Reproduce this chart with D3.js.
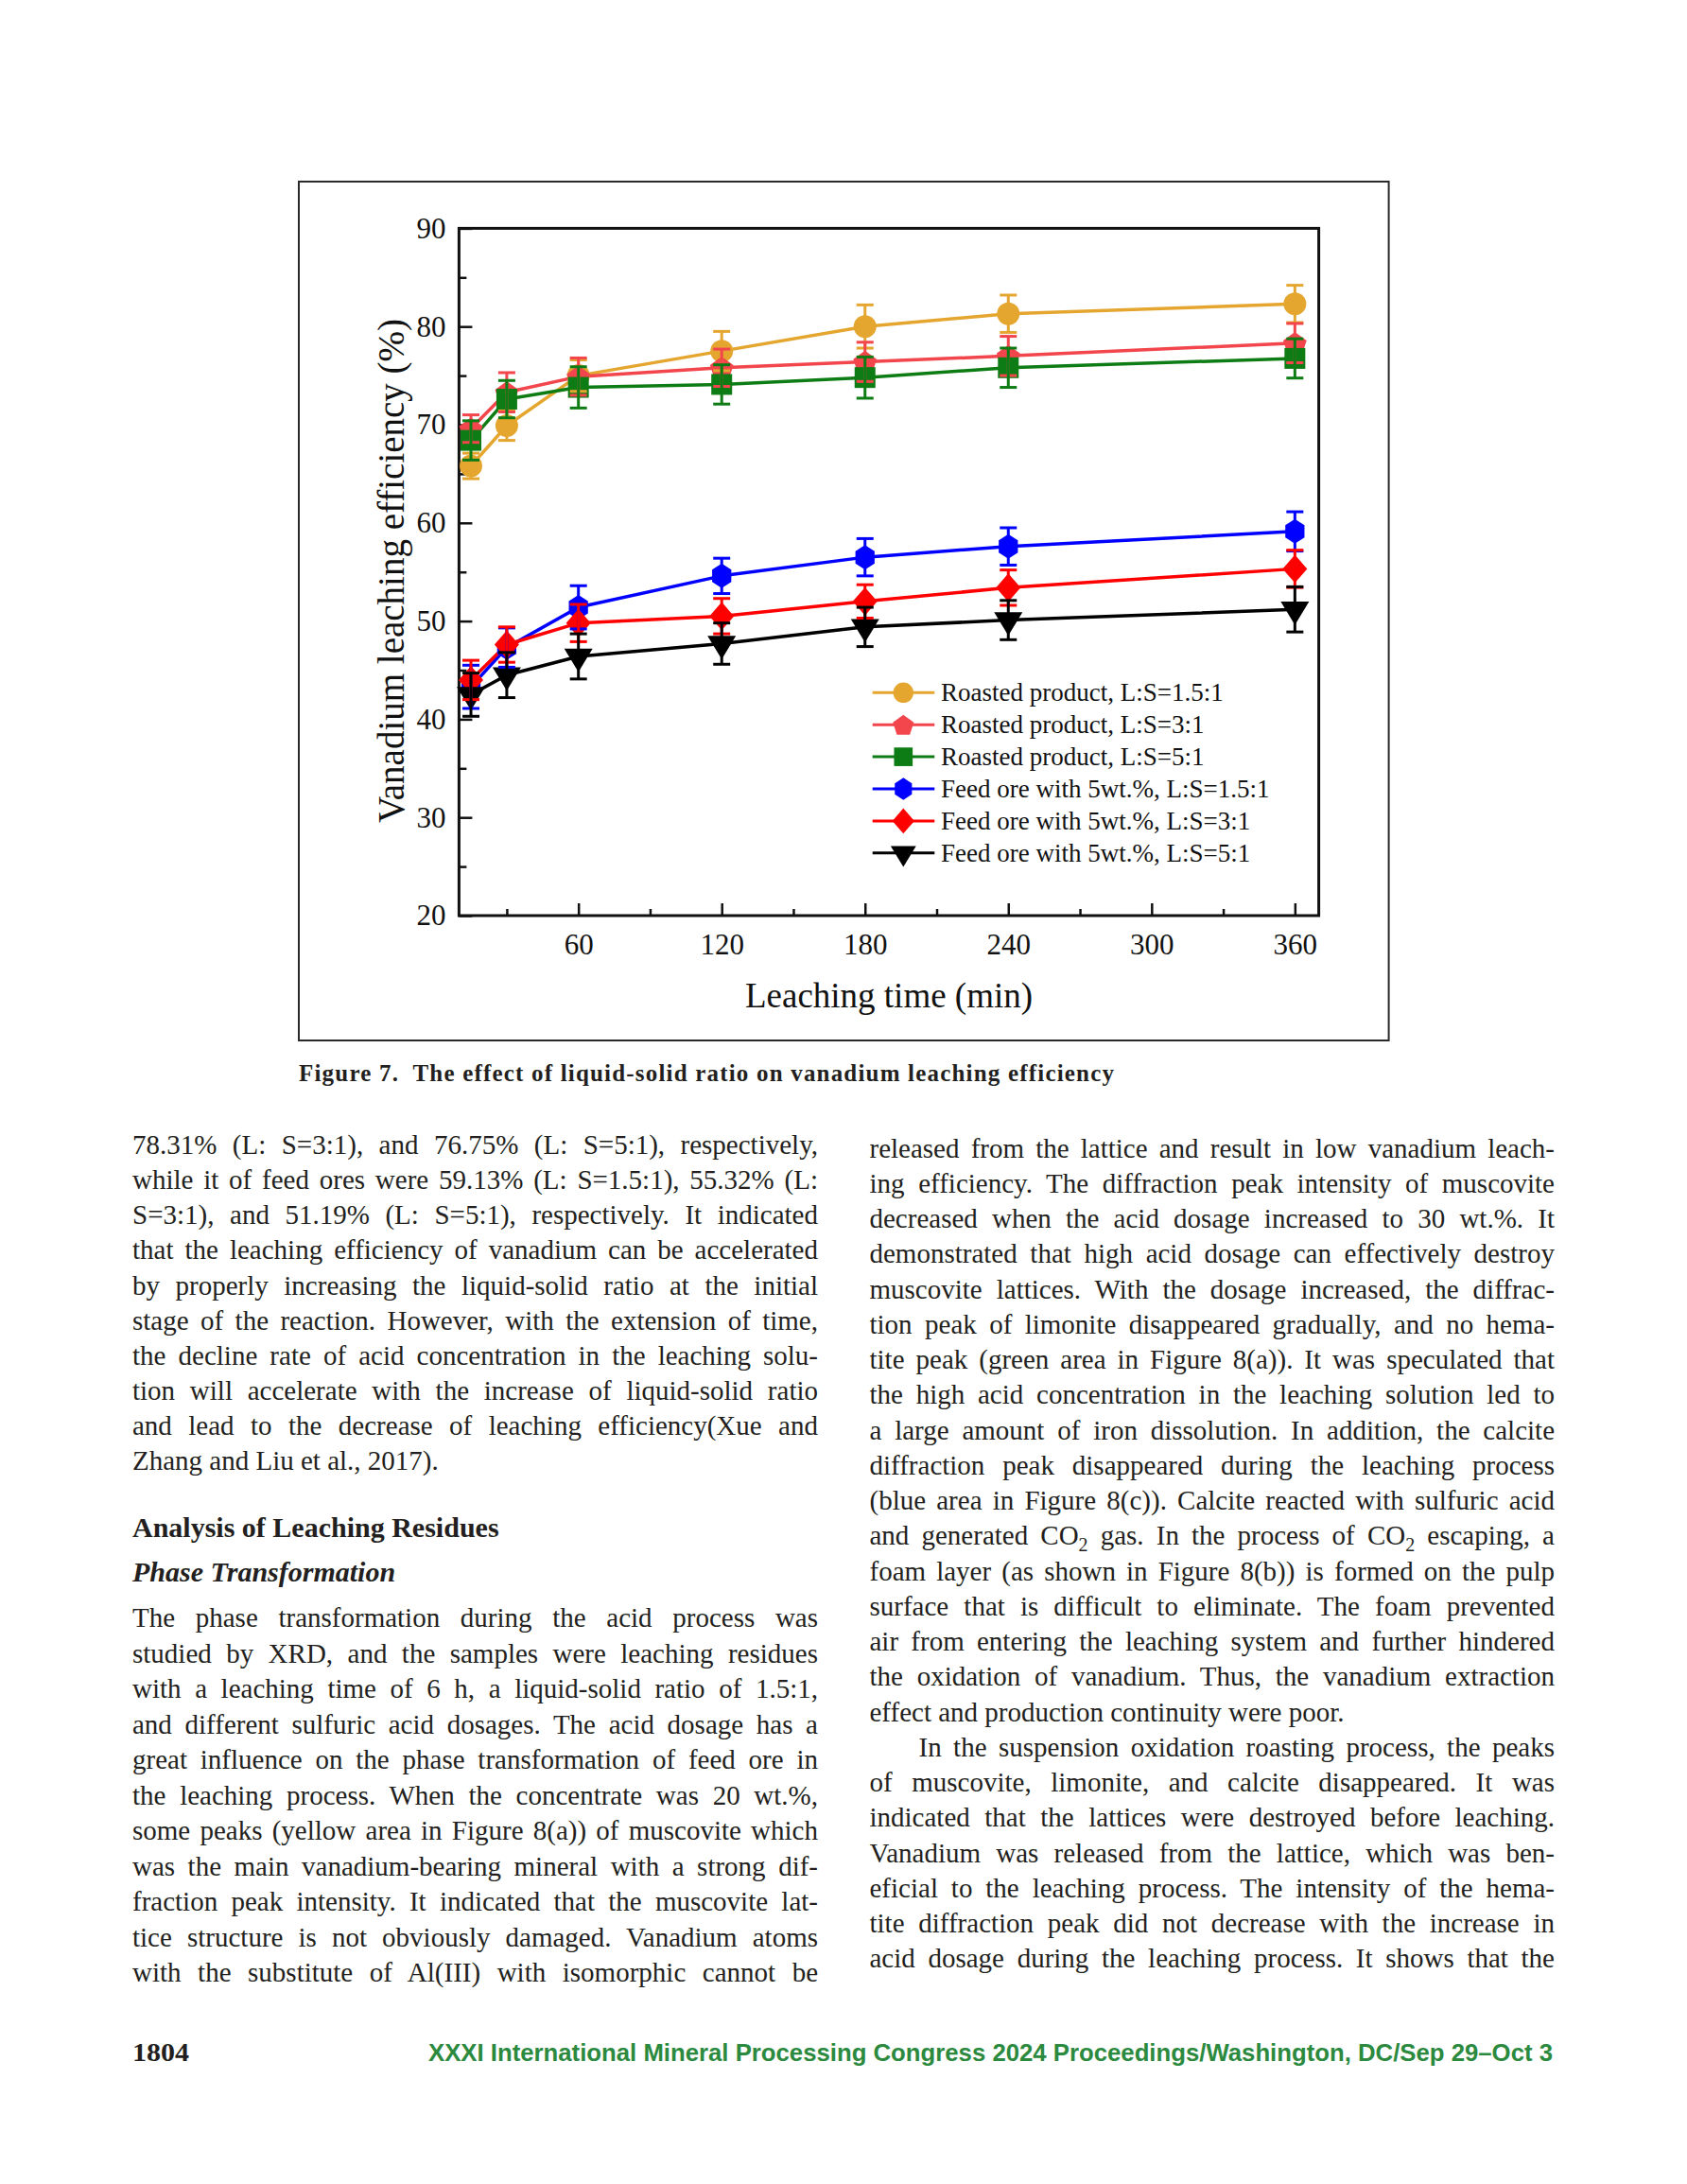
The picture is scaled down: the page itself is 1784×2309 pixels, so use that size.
<!DOCTYPE html>
<html><head><meta charset="utf-8">
<script src="https://cdn.jsdelivr.net/npm/d3@7"></script>
<style>html,body{margin:0;padding:0;background:#fff;} svg{display:block;}</style>
</head><body>
<svg id="page" width="1784" height="2309"></svg>
<script>
// ---------------- DATA ----------------
const timeMin = [15, 30, 60, 120, 180, 240, 360];
const roasted15 = [65.8, 69.9, 75.0, 77.5, 80.0, 81.3, 82.3];
const roasted3  = [69.6, 73.3, 74.9, 75.8, 76.4, 77.0, 78.31];
const roasted5  = [68.4, 72.6, 73.8, 74.1, 74.8, 75.8, 76.75];
const feed15    = [43.3, 47.3, 51.4, 54.6, 56.5, 57.6, 59.13];
const feed3     = [44.0, 47.6, 49.8, 50.5, 52.0, 53.4, 55.32];
const feed5     = [42.5, 44.5, 46.4, 47.7, 49.4, 50.1, 51.19];
const roasted15Err = [1.3, 1.5, 1.6, 2.0, 2.2, 1.9, 1.9];
const roasted3Err  = [1.4, 2.0, 1.9, 1.9, 2.0, 2.0, 2.0];
const roasted5Err  = [2.0, 1.9, 2.1, 2.0, 2.1, 2.0, 2.0];
const feed15Err    = [2.2, 2.0, 2.2, 1.8, 1.9, 1.9, 2.0];
const feed3Err     = [2.0, 1.8, 1.9, 1.8, 1.7, 1.8, 1.9];
const feed5Err     = [2.2, 2.3, 2.3, 2.1, 2.0, 2.0, 2.3];
const seriesLabels = ["Roasted product, L:S=1.5:1", "Roasted product, L:S=3:1", "Roasted product, L:S=5:1",
  "Feed ore with 5wt.%, L:S=1.5:1", "Feed ore with 5wt.%, L:S=3:1", "Feed ore with 5wt.%, L:S=5:1"];
const xMajorTicks = [60, 120, 180, 240, 300, 360];
const xMinorTicks = [30, 90, 150, 210, 270, 330];
const yMajorTicks = [20, 30, 40, 50, 60, 70, 80, 90];
const yMinorTicks = [25, 35, 45, 55, 65, 75, 85];
const xTitle = "Leaching time (min)";
const yTitle = "Vanadium leaching efficiency (%)";
const caption = "Figure 7.  The effect of liquid-solid ratio on vanadium leaching efficiency";

const leftPara1 = [
"78.31% (L: S=3:1), and 76.75% (L: S=5:1), respectively,",
"while it of feed ores were 59.13% (L: S=1.5:1), 55.32% (L:",
"S=3:1), and 51.19% (L: S=5:1), respectively. It indicated",
"that the leaching efficiency of vanadium can be accelerated",
"by properly increasing the liquid-solid ratio at the initial",
"stage of the reaction. However, with the extension of time,",
"the decline rate of acid concentration in the leaching solu-",
"tion will accelerate with the increase of liquid-solid ratio",
"and lead to the decrease of leaching efficiency(Xue and",
"Zhang and Liu et al., 2017)."];
const heading1 = "Analysis of Leaching Residues";
const heading2 = "Phase Transformation";
const leftPara2 = [
"The phase transformation during the acid process was",
"studied by XRD, and the samples were leaching residues",
"with a leaching time of 6 h, a liquid-solid ratio of 1.5:1,",
"and different sulfuric acid dosages. The acid dosage has a",
"great influence on the phase transformation of feed ore in",
"the leaching process. When the concentrate was 20 wt.%,",
"some peaks (yellow area in Figure 8(a)) of muscovite which",
"was the main vanadium-bearing mineral with a strong dif-",
"fraction peak intensity. It indicated that the muscovite lat-",
"tice structure is not obviously damaged. Vanadium atoms",
"with the substitute of Al(III) with isomorphic cannot be"];
const rightCol = [
"released from the lattice and result in low vanadium leach-",
"ing efficiency. The diffraction peak intensity of muscovite",
"decreased when the acid dosage increased to 30 wt.%. It",
"demonstrated that high acid dosage can effectively destroy",
"muscovite lattices. With the dosage increased, the diffrac-",
"tion peak of limonite disappeared gradually, and no hema-",
"tite peak (green area in Figure 8(a)). It was speculated that",
"the high acid concentration in the leaching solution led to",
"a large amount of iron dissolution. In addition, the calcite",
"diffraction peak disappeared during the leaching process",
"(blue area in Figure 8(c)). Calcite reacted with sulfuric acid",
"and generated CO2 gas. In the process of CO2 escaping, a",
"foam layer (as shown in Figure 8(b)) is formed on the pulp",
"surface that is difficult to eliminate. The foam prevented",
"air from entering the leaching system and further hindered",
"the oxidation of vanadium. Thus, the vanadium extraction",
"effect and production continuity were poor.",
"In the suspension oxidation roasting process, the peaks",
"of muscovite, limonite, and calcite disappeared. It was",
"indicated that the lattices were destroyed before leaching.",
"Vanadium was released from the lattice, which was ben-",
"eficial to the leaching process. The intensity of the hema-",
"tite diffraction peak did not decrease with the increase in",
"acid dosage during the leaching process. It shows that the"];
const pageNumber = "1804";
const footerText = "XXXI International Mineral Processing Congress 2024 Proceedings/Washington, DC/Sep 29\u2013Oct 3";

// ---------------- MARKERS ----------------
function polyType(pts) {
  return { draw(ctx, size) { const r = Math.sqrt(size);
    pts.forEach(([a, b], i) => i ? ctx.lineTo(a * r, b * r) : ctx.moveTo(a * r, b * r)); ctx.closePath(); } };
}
const pentagonType = polyType(d3.range(5).map(k => { const a = (-90 + 72 * k) * Math.PI / 180; return [Math.cos(a), Math.sin(a) + 0.1]; }));
const hexagonType = polyType(d3.range(6).map(k => { const a = (-90 + 60 * k) * Math.PI / 180; return [0.9 * Math.cos(a), Math.sin(a)]; }));
const diamondType = polyType([[0, -1.15], [1, 0], [0, 1.15], [-1, 0]]);
const triDownType = polyType([[-1, -0.55], [1, -0.55], [0, 1.1]]);
const squareType = polyType([[-1, -1], [1, -1], [1, 1], [-1, 1]]);
const circleType = { draw(ctx, size) { const r = Math.sqrt(size); ctx.moveTo(r, 0); ctx.arc(0, 0, r, 0, 2 * Math.PI); } };

const series = [
  { name: seriesLabels[0], vals: roasted15, err: roasted15Err, color: "#E5A630", type: circleType, r: 12 },
  { name: seriesLabels[1], vals: roasted3, err: roasted3Err, color: "#F2454C", type: pentagonType, r: 13 },
  { name: seriesLabels[2], vals: roasted5, err: roasted5Err, color: "#0E7C14", type: squareType, r: 11 },
  { name: seriesLabels[3], vals: feed15, err: feed15Err, color: "#0000FF", type: hexagonType, r: 13 },
  { name: seriesLabels[4], vals: feed3, err: feed3Err, color: "#FF0000", type: diamondType, r: 13 },
  { name: seriesLabels[5], vals: feed5, err: feed5Err, color: "#000000", type: triDownType, r: 15 }
];

// ---------------- PAGE ----------------
const svg = d3.select("#page");
svg.append("rect").attr("width", 1784).attr("height", 2309).attr("fill", "#fff");

// figure frame
svg.append("rect").attr("x", 316).attr("y", 192).attr("width", 1152.6).attr("height", 908)
  .attr("fill", "none").attr("stroke", "#2a2a2a").attr("stroke-width", 2);

const P = { l: 485.4, r: 1394.6, t: 241.4, b: 968 };
const x = d3.scaleLinear().domain([10, 370]).range([P.l, P.r]);
const y = d3.scaleLinear().domain([20, 90]).range([P.b, P.t]);
const serif = "Liberation Serif, Times New Roman, serif";

const chart = svg.append("g");
// axes
const xMaj = chart.append("g").attr("transform", `translate(0,${P.b})`)
  .call(d3.axisBottom(x).tickValues(xMajorTicks).tickSizeInner(-13).tickSizeOuter(0).tickPadding(19).tickFormat(d3.format("d")));
const xMin = chart.append("g").attr("transform", `translate(0,${P.b})`)
  .call(d3.axisBottom(x).tickValues(xMinorTicks).tickSizeInner(-7).tickSizeOuter(0).tickFormat(""));
const yMaj = chart.append("g").attr("transform", `translate(${P.l},0)`)
  .call(d3.axisLeft(y).tickValues(yMajorTicks).tickSizeInner(-14).tickSizeOuter(0).tickPadding(14).tickFormat(d3.format("d")));
const yMin = chart.append("g").attr("transform", `translate(${P.l},0)`)
  .call(d3.axisLeft(y).tickValues(yMinorTicks).tickSizeInner(-8).tickSizeOuter(0).tickFormat(""));
[xMaj, xMin, yMaj, yMin].forEach(g => {
  g.attr("font-family", serif).attr("font-size", 31);
  g.select(".domain").remove();
  g.selectAll(".tick line").attr("stroke", "#111").attr("stroke-width", 2.5);
  g.selectAll(".tick text").attr("fill", "#111").attr("font-family", serif).attr("font-size", 31)
    .style("font-family", serif).style("font-size", "31px");
});

// plot frame
chart.append("rect").attr("x", P.l).attr("y", P.t).attr("width", P.r - P.l).attr("height", P.b - P.t)
  .attr("fill", "none").attr("stroke", "#111").attr("stroke-width", 3);

// titles
chart.append("text").attr("x", (P.l + P.r) / 2).attr("y", 1065).attr("text-anchor", "middle")
  .style("font-family", serif).style("font-size", "37px").attr("fill", "#111").text(xTitle);
chart.append("text").attr("transform", "translate(427,603.5) rotate(-90)").attr("text-anchor", "middle")
  .style("font-family", serif).style("font-size", "39px").attr("fill", "#111").text(yTitle);

// lines
const lineGen = d3.line().x((d, i) => x(timeMin[i])).y(d => y(d));
series.forEach(s => {
  chart.append("path").attr("d", lineGen(s.vals)).attr("fill", "none")
    .attr("stroke", s.color).attr("stroke-width", 3.5).attr("stroke-linejoin", "round");
});
// markers
series.forEach(s => {
  chart.selectAll(null).data(s.vals).join("path")
    .attr("transform", (d, i) => `translate(${x(timeMin[i])},${y(d)})`)
    .attr("d", d3.symbol().type(s.type).size(s.r * s.r)())
    .attr("fill", s.color);
});
// error bars
const cap = 9;
series.forEach(s => {
  const g = chart.append("g").attr("stroke", s.color).attr("stroke-width", 3);
  s.vals.forEach((v, i) => {
    const cx = x(timeMin[i]), y1 = y(v + s.err[i]), y2 = y(v - s.err[i]);
    g.append("line").attr("x1", cx).attr("x2", cx).attr("y1", y1).attr("y2", y2);
    g.append("line").attr("x1", cx - cap).attr("x2", cx + cap).attr("y1", y1).attr("y2", y1);
    g.append("line").attr("x1", cx - cap).attr("x2", cx + cap).attr("y1", y2).attr("y2", y2);
  });
});

// legend
const leg = chart.append("g");
series.forEach((s, i) => {
  const cy = 732.3 + i * 33.9;
  leg.append("line").attr("x1", 922.7).attr("x2", 988.3).attr("y1", cy).attr("y2", cy)
    .attr("stroke", s.color).attr("stroke-width", 3);
  leg.append("path").attr("transform", `translate(955.3,${cy})`)
    .attr("d", d3.symbol().type(s.type).size(s.r * s.r * 0.8)()).attr("fill", s.color);
  leg.append("text").attr("x", 995).attr("y", cy + 9).style("font-family", serif).style("font-size", "27px")
    .attr("fill", "#111").text(s.name);
});

// caption
svg.append("text").attr("x", 316).attr("y", 1142.5).style("font-family", serif).style("font-weight", "bold")
  .style("font-size", "25px").attr("fill", "#231f20").attr("textLength", 862).attr("lengthAdjust", "spacing")
  .style("white-space", "pre").text(caption);

// body text
const bodyFont = "29px";
function addLine(str, x0, yb, width, justify) {
  const t = svg.append("text").attr("x", x0).attr("y", yb).style("font-family", serif)
    .style("font-size", bodyFont).attr("fill", "#231f20").style("white-space", "pre");
  const parts = str.split(/(CO2)/);
  let pend = 0;
  parts.forEach(p => {
    if (p === "CO2") {
      const a = t.append("tspan").text("CO"); if (pend) { a.attr("dy", pend); pend = 0; }
      t.append("tspan").attr("dy", 7).style("font-size", "20px").text("2");
      pend = -7;
    } else if (p.length) {
      const a = t.append("tspan").text(p); if (pend) { a.attr("dy", pend); pend = 0; }
    }
  });
  if (justify) {
    const L = t.node().getComputedTextLength();
    const n = (str.match(/ /g) || []).length;
    if (n > 0) t.style("word-spacing", ((width - L) / n) + "px");
  }
  return t;
}
const LX = 140, LW = 725, RX = 919.5, RW = 724.5;
leftPara1.forEach((s, i) => addLine(s, LX, 1220 + i * 37.15, LW, i < leftPara1.length - 1));
svg.append("text").attr("x", LX).attr("y", 1625).style("font-family", serif).style("font-weight", "bold")
  .style("font-size", "30px").attr("fill", "#231f20").text(heading1);
svg.append("text").attr("x", LX).attr("y", 1672).style("font-family", serif).style("font-weight", "bold")
  .style("font-style", "italic").style("font-size", "30px").attr("fill", "#231f20").text(heading2);
leftPara2.forEach((s, i) => addLine(s, LX, 1720 + i * 37.5, LW, true));
rightCol.forEach((s, i) => {
  const indent = i === 17 ? 52 : 0;
  addLine(s, RX + indent, 1223.5 + i * 37.26, RW - indent, i !== 16);
});

// footer
svg.append("text").attr("x", 140).attr("y", 2179).style("font-family", serif).style("font-weight", "bold")
  .style("font-size", "27px").attr("fill", "#231f20").attr("textLength", 60).attr("lengthAdjust", "spacingAndGlyphs").text(pageNumber);
svg.append("text").attr("x", 453).attr("y", 2179).style("font-family", "Liberation Sans, Arial, sans-serif")
  .style("font-weight", "bold").style("font-size", "25px").attr("fill", "#2B8A3E")
  .attr("textLength", 1189).attr("lengthAdjust", "spacingAndGlyphs").text(footerText);
</script>
</body></html>
